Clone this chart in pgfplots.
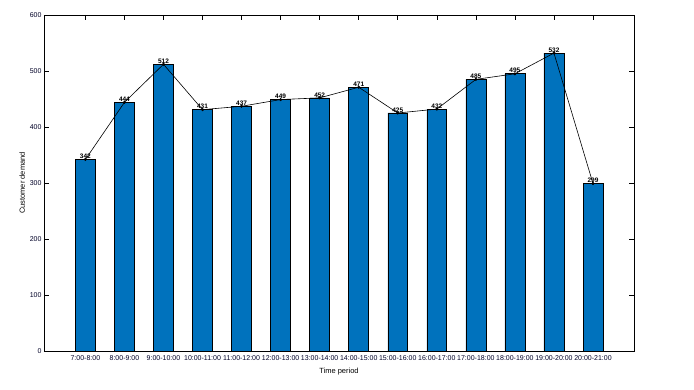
\documentclass[border=0pt]{standalone}
\usepackage{fontspec}
\setmainfont{Liberation Sans}
\usepackage{pgfplots}
\pgfplotsset{compat=1.18}
\definecolor{barblue}{RGB}{0,114,189}

\pgfplotstableread{
x  demand
1  342
2  444
3  512
4  431
5  437
6  449
7  452
8  471
9  425
10 432
11 485
12 495
13 532
14 299
}\demandtable

\begin{document}
\begin{tikzpicture}
\useasboundingbox (-44pt,-39pt) rectangle (650pt,351pt);
\begin{axis}[
    scale only axis,
    width=590pt, height=336pt,
    xmin=-0.06, xmax=15.05,
    ymin=0, ymax=600,
    xtick={1,...,14},
    xticklabels={7:00-8:00,8:00-9:00,9:00-10:00,10:00-11:00,11:00-12:00,12:00-13:00,13:00-14:00,14:00-15:00,15:00-16:00,16:00-17:00,17:00-18:00,18:00-19:00,19:00-20:00,20:00-21:00},
    ytick={0,100,...,600},
    tick align=inside,
    major tick length=5pt,
    tick style={black, line width=0.6pt},
    axis line style={black, line width=0.8pt},
    ticklabel style={font=\fontsize{7}{8}\selectfont, text=black!85!blue},
    /pgf/number format/assume math mode=true,
    xticklabel style={yshift=-1.5pt},
    yticklabel style={xshift=1pt},
    xlabel={Time period},
    ylabel={Customer demand},
    label style={font=\fontsize{7.5}{9}\selectfont},
    xlabel style={yshift=0pt},
    ylabel style={yshift=-2pt},
]
\addplot[ybar, bar width=0.51, fill=barblue, draw=black, line width=0.6pt]
    table[x=x, y=demand] {\demandtable};
\addplot[black, line width=0.6pt, mark=*, mark size=1.2pt,
    nodes near coords,
    every node near coord/.append style={font=\bfseries\fontsize{6.5}{7}\selectfont, anchor=south, inner sep=0.5pt, black},
    ] table[x=x, y=demand] {\demandtable};
\end{axis}
\end{tikzpicture}
\end{document}
